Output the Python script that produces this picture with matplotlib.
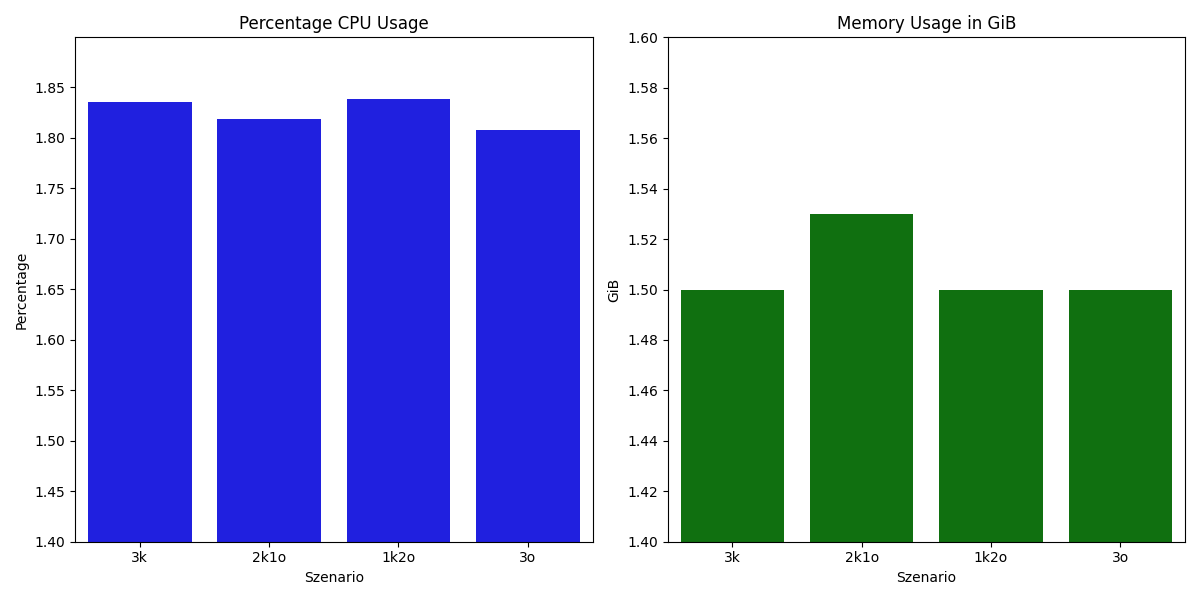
import matplotlib
matplotlib.use("Agg")
import matplotlib.pyplot as plt
from matplotlib.ticker import MultipleLocator
import seaborn as sns
import pandas as pd

scenarios = ["3k", "2k1o", "1k2o", "3o"]
cpu_values = [1.835, 1.819, 1.838, 1.808]
mem_values = [1.50, 1.53, 1.50, 1.50]

fig, axes = plt.subplots(1, 2, figsize=(12, 6), dpi=100)

df_cpu = pd.DataFrame({"Szenario": scenarios, "Percentage": cpu_values})
df_mem = pd.DataFrame({"Szenario": scenarios, "GiB": mem_values})

sns.barplot(data=df_cpu, x="Szenario", y="Percentage", color="blue", ax=axes[0])
axes[0].set_title("Percentage CPU Usage")
axes[0].set_ylim(1.4, 1.8995)
axes[0].yaxis.set_major_locator(MultipleLocator(0.05))

sns.barplot(data=df_mem, x="Szenario", y="GiB", color="green", ax=axes[1])
axes[1].set_title("Memory Usage in GiB")
axes[1].set_ylim(1.4, 1.6)
axes[1].yaxis.set_major_locator(MultipleLocator(0.02))

plt.tight_layout()
plt.savefig("out.png")
